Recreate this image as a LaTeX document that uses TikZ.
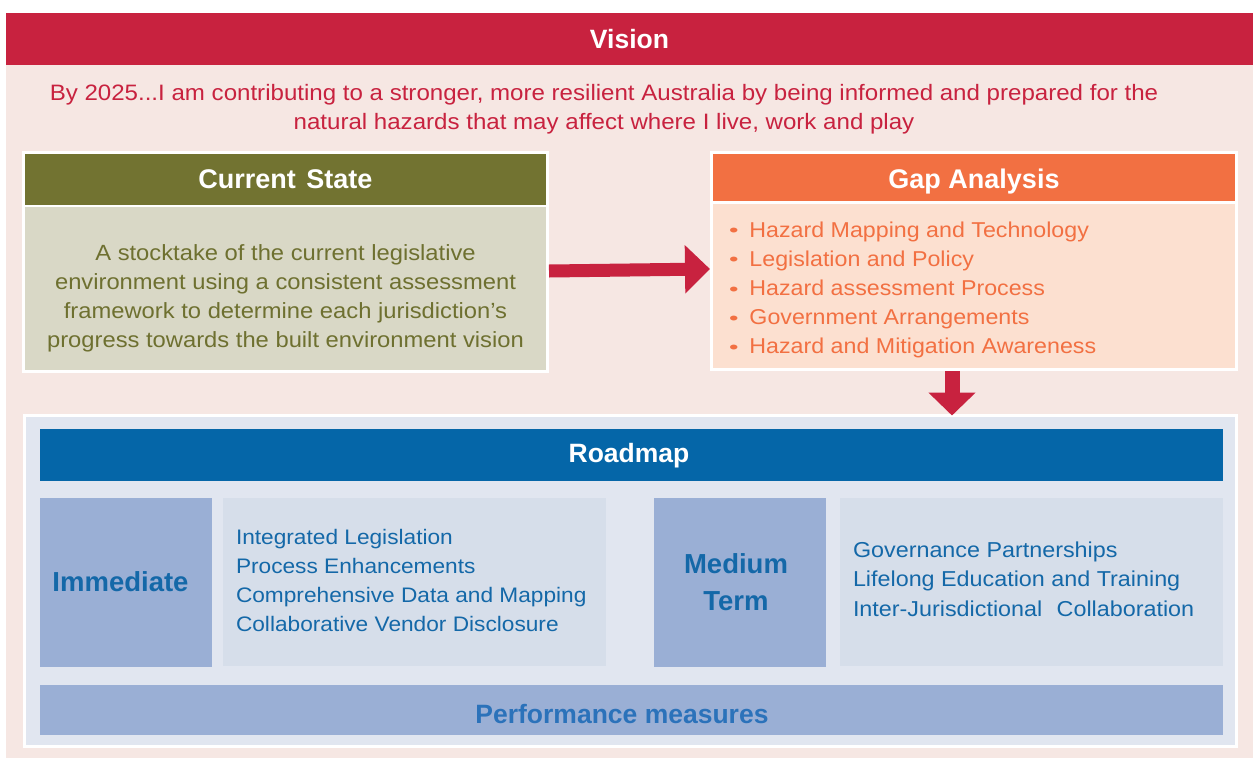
\documentclass[tikz,border=0pt]{standalone}
\usepackage{fontspec}
\setmainfont{Liberation Sans}
\newfontfamily\bodyf[FakeStretch=1.08]{Liberation Sans}
\newfontfamily\bulf[FakeStretch=1.5]{Liberation Sans}
\usetikzlibrary{arrows.meta,positioning}
\definecolor{visred}{HTML}{C8223F}
\definecolor{pinkbg}{HTML}{F6E7E3}
\definecolor{olive}{HTML}{727331}
\definecolor{olivebody}{HTML}{D9D8C6}
\definecolor{olivetext}{HTML}{6E7030}
\definecolor{orng}{HTML}{F27042}
\definecolor{peach}{HTML}{FCE0D0}
\definecolor{rmbg}{HTML}{E1E6F0}
\definecolor{rmblue}{HTML}{0566A8}
\definecolor{lblue}{HTML}{9AAFD5}
\definecolor{tbox}{HTML}{D6DEEA}
\definecolor{txtblue}{HTML}{1468A8}
\definecolor{pmblue}{HTML}{2B72BA}
\tikzset{
  rbox/.style={inner sep=0pt, outer sep=0pt, draw=none},
  hdr/.style={text=white, font=\bfseries\fontsize{27}{30}\selectfont},
  bigarrow/.style={draw=visred, line width=13pt, -{Triangle[width=47pt,length=25pt]}},
  downarrow/.style={draw=visred, line width=15pt, -{Triangle[width=46pt,length=23pt]}},
}
\newcommand{\gbul}{\raisebox{0.5pt}{\bulf\fontsize{18}{18}\selectfont\textbullet}\hspace{11pt}}
\begin{document}
\begin{tikzpicture}[x=1pt,y=-1pt]
\useasboundingbox[fill=white] (0,0) rectangle (1253,758);
% background
\fill[pinkbg] (6,13) rectangle (1253,758);
\node[rbox, fill=visred, minimum width=1247pt, minimum height=52pt, hdr, font=\bfseries\fontsize{26.5}{30}\selectfont] (vision) at (629.5,39) {Vision};
\node[rbox, text=visred, align=center, font=\bodyf\fontsize{22.3}{29}\selectfont] (vtext) at (604,109) {By 2025...I am contributing to a stronger, more resilient Australia by being informed and prepared for the\\natural hazards that may affect where I live, work and play};
% Current State
\node[rbox, fill=white, minimum width=527pt, minimum height=222pt] (cs) at (285.5,262) {};
\node[rbox, fill=olive, minimum width=521pt, minimum height=51pt, hdr] (csh) at (285.5,179.5) {Current\hspace{3pt} State};
\node[rbox, fill=olivebody, minimum width=521pt, minimum height=163pt] (csb) at (285.5,288.5) {};
\node[rbox, text=olivetext, align=center, font=\bodyf\fontsize{22}{29}\selectfont] (cstext) at (285.5,298.5) {A stocktake of the current legislative\\environment using a consistent assessment\\framework to determine each jurisdiction’s\\progress towards the built environment vision};
% Gap analysis
\node[rbox, fill=white, minimum width=528pt, minimum height=220pt] (ga) at (974,261) {};
\node[rbox, fill=orng, minimum width=522pt, minimum height=47pt] (gah) at (974,177.5) {};
\node[rbox, hdr] (gahtext) at (974,181.5) {Gap Analysis};
\node[rbox, fill=peach, minimum width=522pt, minimum height=164pt] (gab) at (974,286) {};
\node[rbox, anchor=west, text=orng, align=left, font=\bodyf\fontsize{21.5}{29.2}\selectfont] (galist) at (729,290) {%
\gbul Hazard Mapping and Technology\\
\gbul Legislation and Policy\\
\gbul Hazard assessment Process\\
\gbul Government Arrangements\\
\gbul Hazard and Mitigation Awareness};
% Roadmap
\node[rbox, fill=rmbg, draw=white, line width=3pt, minimum width=1212pt, minimum height=331pt] (rm) at (630.5,581) {};
\node[rbox, fill=rmblue, minimum width=1183pt, minimum height=52pt] (rmh) at (631.5,455) {};
\node[rbox, hdr, font=\bfseries\fontsize{26.5}{30}\selectfont] (rmhtext) at (629,456) {Roadmap};
\node[rbox, fill=lblue, minimum width=172pt, minimum height=169pt] (imm) at (126,582.5) {};
\node[rbox, text=txtblue, font=\bfseries\fontsize{27.5}{30}\selectfont] (immtext) at (120.5,582) {Immediate};
\node[rbox, fill=tbox, minimum width=383pt, minimum height=168pt] (immb) at (414.5,582) {};
\node[rbox, anchor=west, text=txtblue, align=left, font=\bodyf\fontsize{21}{29}\selectfont] (immlist) at (236,580) {Integrated Legislation\\Process Enhancements\\Comprehensive Data and Mapping\\Collaborative Vendor Disclosure};
\node[rbox, fill=lblue, minimum width=172pt, minimum height=169pt] (med) at (740,582.5) {};
\node[rbox, text=txtblue, align=center, font=\bfseries\fontsize{27.5}{37}\selectfont] (medtext) at (736,582) {Medium\\Term};
\node[rbox, fill=tbox, minimum width=383pt, minimum height=168pt] (medb) at (1031.5,582) {};
\node[rbox, anchor=west, text=txtblue, align=left, font=\bodyf\fontsize{21.6}{29.5}\selectfont] (medlist) at (853,579) {Governance Partnerships\\Lifelong Education and Training\\Inter-Jurisdictional\hspace{8pt} Collaboration};
\node[rbox, fill=lblue, minimum width=1183pt, minimum height=50pt] (pm) at (631.5,710) {};
\node[rbox, text=pmblue, font=\bfseries\fontsize{26.5}{30}\selectfont] (pmtext) at (622,714) {Performance measures};
% arrows
\draw[bigarrow] ([yshift=-9pt]cs.east) -- ([yshift=-8pt]ga.west);
\draw[downarrow] ([xshift=-22pt]ga.south) -- ([xshift=-22pt]ga.south |- rm.north);
\end{tikzpicture}
\end{document}
